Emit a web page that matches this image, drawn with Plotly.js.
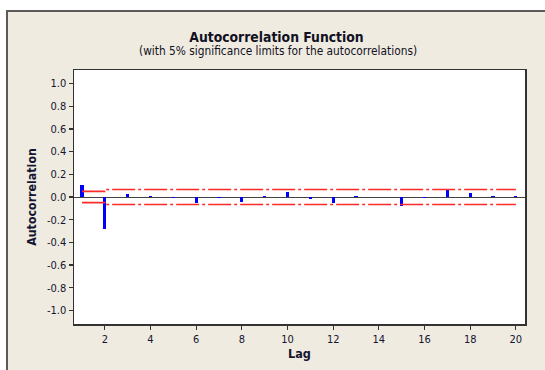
<!DOCTYPE html>
<html>
<head>
<meta charset="utf-8">
<script src="https://cdn.plot.ly/plotly-3.0.1.min.js"></script>
<style>
  html, body { margin: 0; padding: 0; background: #ffffff; }
  #chart { width: 545px; height: 370px; }
</style>
</head>
<body>
<div id="chart"></div>
<script>
// Data
var lags = [1, 2, 3, 4, 5, 6, 7, 8, 9, 10, 11, 12, 13, 14, 15, 16, 17, 18, 19, 20];
var acf = [0.11, -0.28, 0.03, 0.008, -0.01, -0.05, -0.01, -0.045, 0.006, 0.04,
           -0.015, -0.055, 0.006, 0.004, -0.075, -0.01, 0.06, 0.035, 0.01, 0.01];
var upperLimit = [0.050, 0.066, 0.066, 0.066, 0.066, 0.066, 0.066, 0.066, 0.066, 0.066,
                  0.066, 0.066, 0.066, 0.066, 0.066, 0.066, 0.066, 0.066, 0.066, 0.066];
var lowerLimit = upperLimit.map(function (v) { return -v; });
var xTickVals = [2, 4, 6, 8, 10, 12, 14, 16, 18, 20];
var yTickVals = [-1.0, -0.8, -0.6, -0.4, -0.2, 0.0, 0.2, 0.4, 0.6, 0.8, 1.0];
var yTickText = ["-1.0", "-0.8", "-0.6", "-0.4", "-0.2", "0.0", "0.2", "0.4", "0.6", "0.8", "1.0"];

var FONT = "'DejaVu Sans Condensed', 'DejaVu Sans', sans-serif";
var TEXT = "#151530";
var limitLine = { color: "#ff2a2a", width: 1.6, dash: "23px,3px,3px,3px", shape: "hv" };

var traces = [
  {
    type: "bar", x: lags, y: acf, width: 0.14,
    marker: { color: "#0000ff", line: { width: 0 } },
    hoverinfo: "x+y", showlegend: false
  },
  {
    type: "scatter", mode: "lines", x: lags, y: upperLimit,
    line: limitLine, hoverinfo: "skip", showlegend: false
  },
  {
    type: "scatter", mode: "lines", x: lags, y: lowerLimit,
    line: limitLine, hoverinfo: "skip", showlegend: false
  }
];

var M = { l: 74, r: 20, t: 70, b: 46 };
var PW = 545 - M.l - M.r, PH = 370 - M.t - M.b;
function px2x(px) { return (px - M.l) / PW; }
function px2y(py) { return (370 - M.b - py) / PH; }

var layout = {
  width: 545, height: 370,
  margin: M,
  paper_bgcolor: "#efebe1",
  plot_bgcolor: "#ffffff",
  font: { family: FONT, color: TEXT, size: 11 },
  bargap: 0,
  title: {
    text: "<b>Autocorrelation Function</b>",
    font: { family: FONT, size: 13.8, color: "#111122" },
    x: px2x(276.5), xanchor: "center", xref: "paper",
    y: 1 - 37 / 370, yanchor: "middle", yref: "container"
  },
  annotations: [
    {
      text: "(with 5% significance limits for the autocorrelations)",
      xref: "paper", yref: "paper", x: px2x(278), y: px2y(51),
      xanchor: "center", yanchor: "middle", showarrow: false,
      font: { family: FONT, size: 11.8, color: "#111122" }
    }
  ],
  xaxis: {
    range: [0.65, 20.4],
    tickmode: "array", tickvals: xTickVals,
    ticks: "outside", ticklen: 4, tickwidth: 1.2, tickcolor: "#333333",
    showgrid: false, zeroline: false,
    showline: true, mirror: true, linecolor: "#333333", linewidth: 1.5,
    tickfont: { family: FONT, size: 11, color: TEXT },
    title: { text: "<b>Lag</b>", font: { family: FONT, size: 12.5, color: TEXT }, standoff: 3 }
  },
  yaxis: {
    range: [-1.12, 1.12],
    tickmode: "array", tickvals: yTickVals, ticktext: yTickText,
    ticks: "outside", ticklen: 4, tickwidth: 1.2, tickcolor: "#333333",
    showgrid: false,
    zeroline: true, zerolinecolor: "#444444", zerolinewidth: 1,
    showline: true, mirror: true, linecolor: "#333333", linewidth: 1.5,
    tickfont: { family: FONT, size: 11, color: TEXT },
    title: { text: "<b>Autocorrelation</b>", font: { family: FONT, size: 12.3, color: TEXT }, standoff: 7 }
  },
  shapes: [
    // white strip above the outer frame
    { type: "rect", xref: "paper", yref: "paper", x0: px2x(-5), x1: px2x(560), y0: px2y(10), y1: px2y(-5),
      fillcolor: "#ffffff", line: { width: 0 }, layer: "above" },
    // white strip left of the outer frame
    { type: "rect", xref: "paper", yref: "paper", x0: px2x(-5), x1: px2x(6), y0: px2y(380), y1: px2y(-5),
      fillcolor: "#ffffff", line: { width: 0 }, layer: "above" },
    // outer frame lines
    { type: "line", xref: "paper", yref: "paper", x0: px2x(6), x1: px2x(560), y0: px2y(11), y1: px2y(11),
      line: { color: "#5a5a5a", width: 2 }, layer: "above" },
    { type: "line", xref: "paper", yref: "paper", x0: px2x(7), x1: px2x(7), y0: px2y(10), y1: px2y(380),
      line: { color: "#5a5a5a", width: 2 }, layer: "above" }
  ]
};

Plotly.newPlot("chart", traces, layout, { displayModeBar: false, staticPlot: true });
</script>
</body>
</html>
